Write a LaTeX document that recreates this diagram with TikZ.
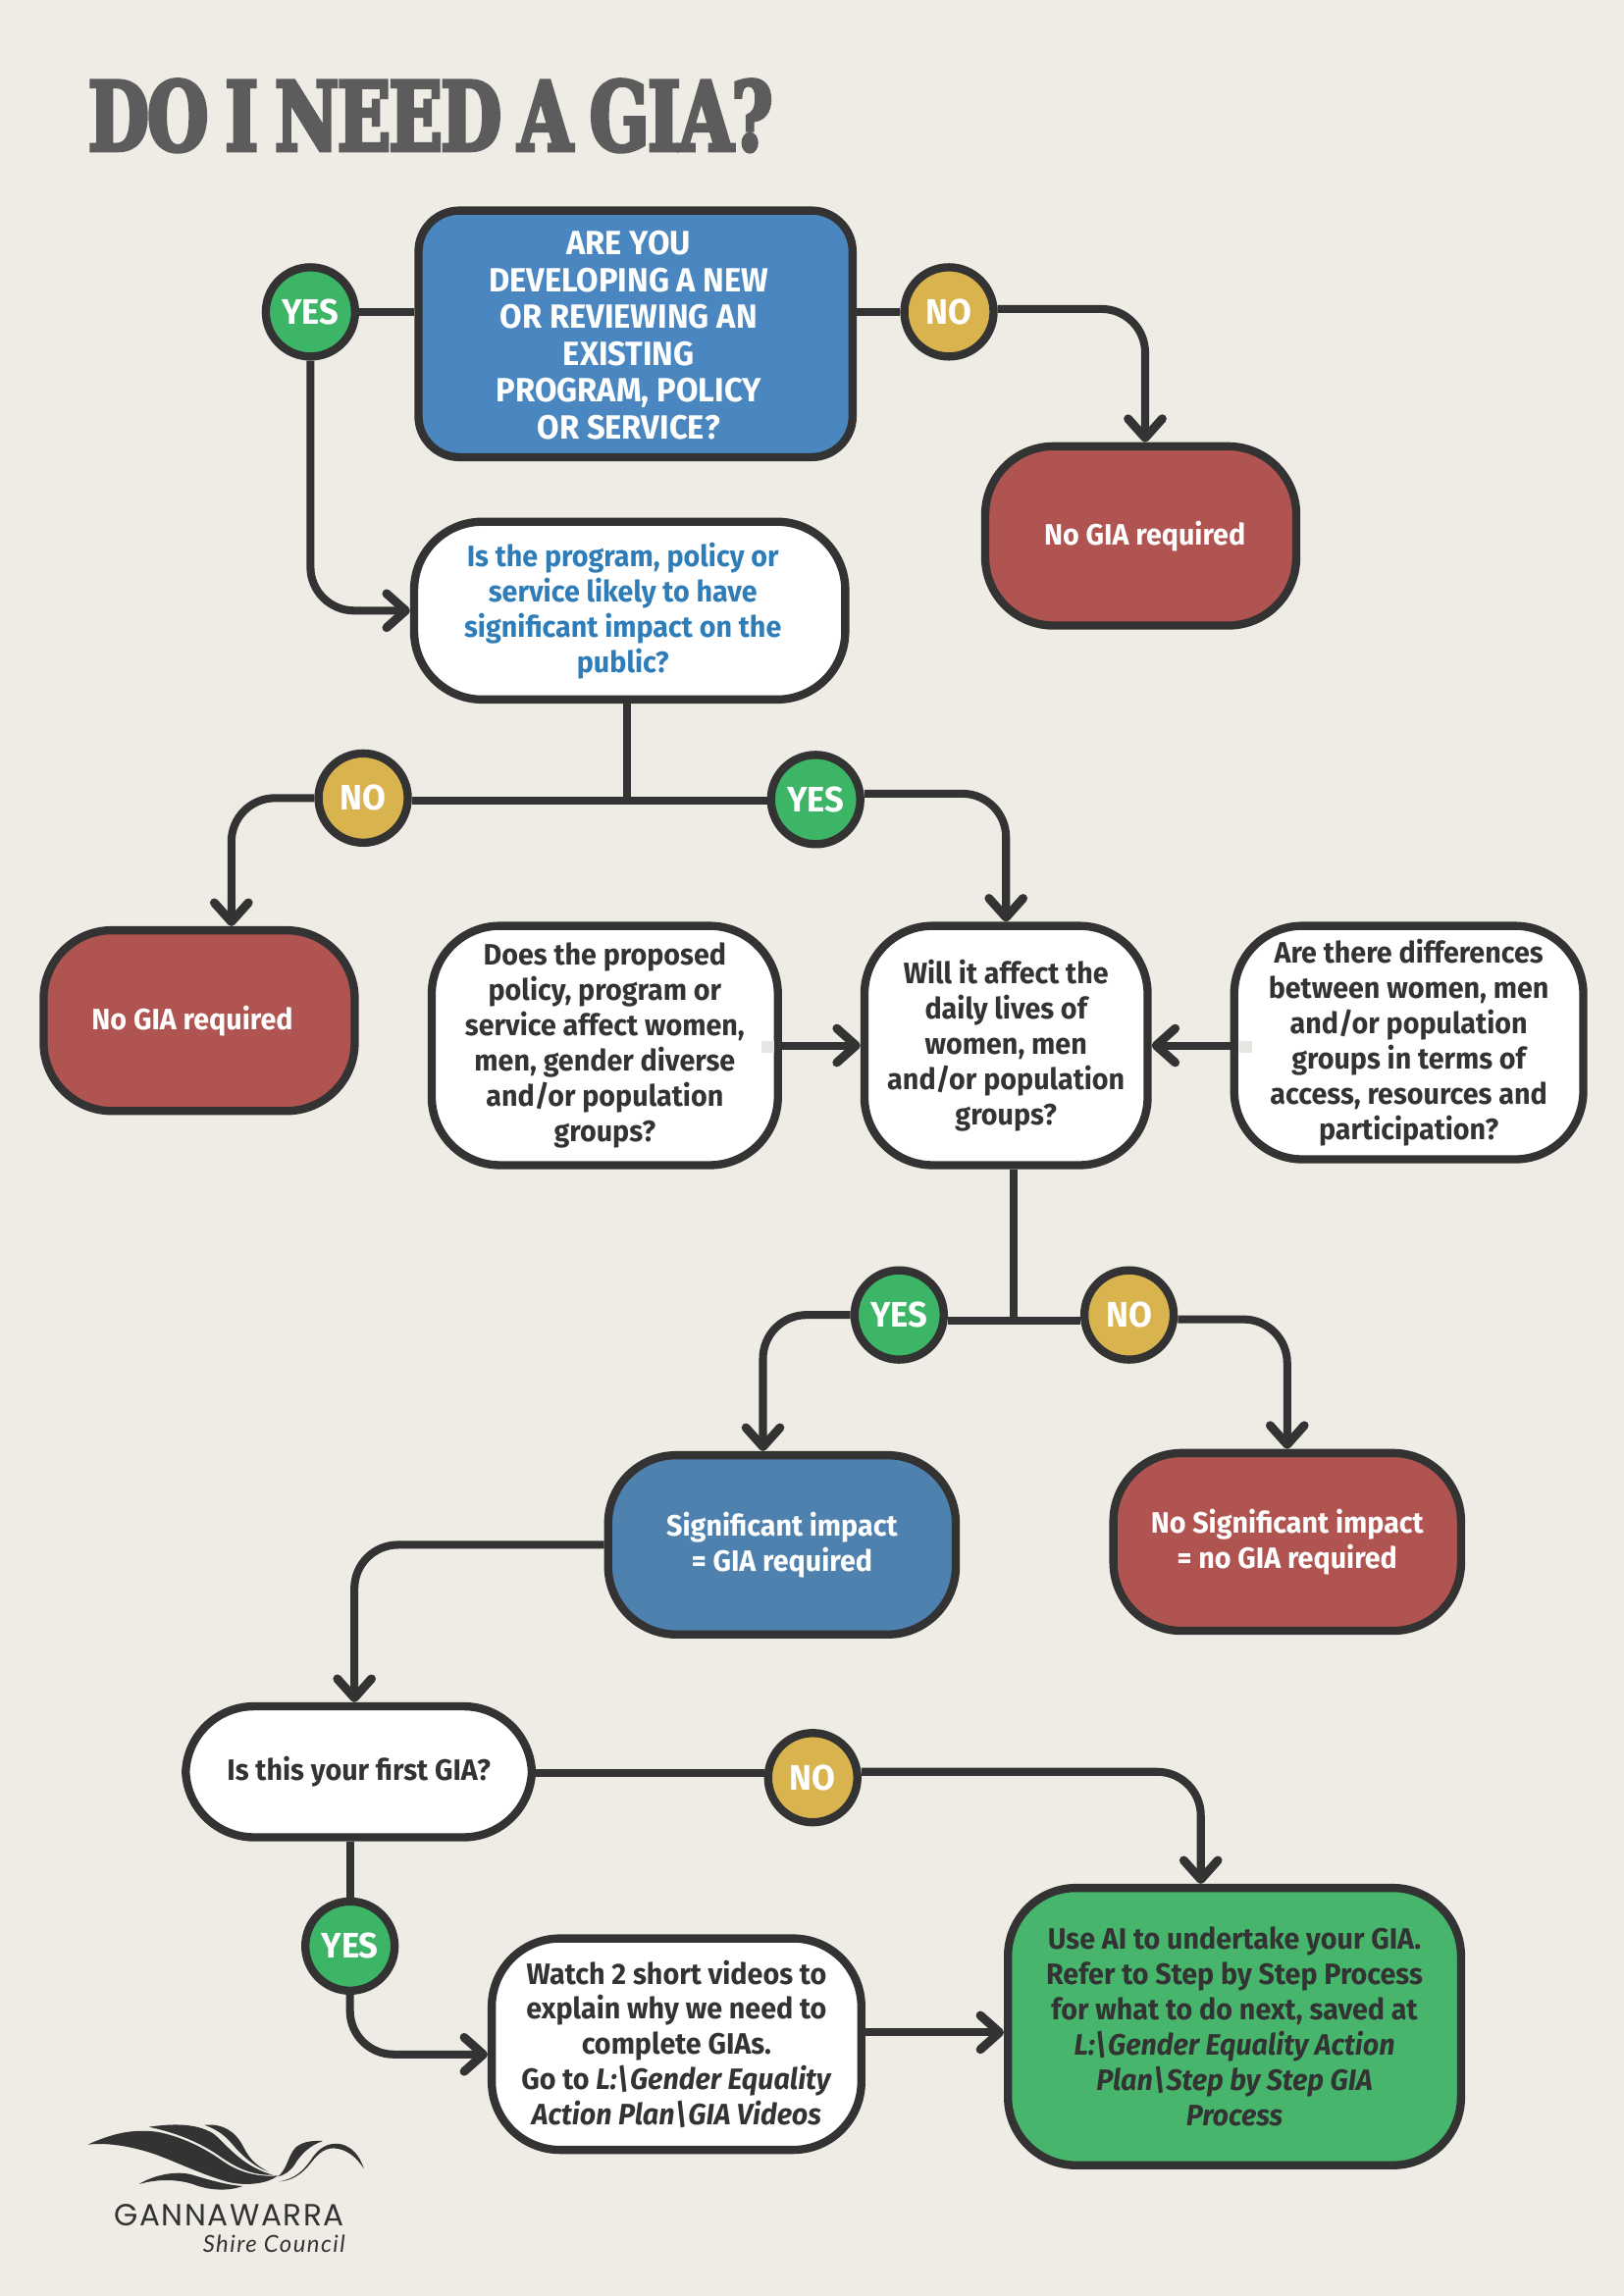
\documentclass[tikz,border=0pt]{standalone}
\usepackage{fontspec}
\setmainfont{Fira Sans}[FakeStretch=0.955]
\newfontfamily\titlefont{DejaVu Serif}[FakeStretch=0.73,FakeBold=4,WordSpace=0.75,LetterSpace=-1.5]
\newfontfamily\logofont{Poppins}[LetterSpace=5]
\newfontfamily\shirefont{Lato}[LetterSpace=6]
\usepackage{tikz}
\usetikzlibrary{positioning,arrows.meta,calc}
\usepackage{xcolor}
\definecolor{paper}{HTML}{EEECE4}
\definecolor{ink}{HTML}{333333}
\definecolor{titlegrey}{HTML}{5C5C5C}
\definecolor{askblue}{HTML}{4A86BF}
\definecolor{textblue}{HTML}{2E7DB8}
\definecolor{sigblue}{HTML}{4E81AD}
\definecolor{stopred}{HTML}{B05451}
\definecolor{yesgreen}{HTML}{3DB567}
\definecolor{nogold}{HTML}{D9B44E}
\definecolor{aigreen}{HTML}{47B56C}
\definecolor{ghost}{HTML}{E6E5E2}

\begin{document}
\begin{tikzpicture}[x=0.5365pt,y=-0.5365pt,>={Straight Barb[length=7pt,width=12.5pt,round,line width=3.2pt]},
  boxsize/.style 2 args={minimum width=#1*0.5365pt-3pt,minimum height=#2*0.5365pt-3pt},
  box/.style={draw=ink,line width=3pt,fill=white,rounded corners=25pt,inner sep=0pt,align=center,text=ink,font=\fontsize{10.8}{12.9}\selectfont\bfseries},
  stopbox/.style={box,fill=stopred,text=white},
  yes/.style={circle,draw=ink,line width=3pt,fill=yesgreen,text=white,minimum size=32.7pt,inner sep=0pt,font=\fontsize{13}{13}\selectfont\bfseries},
  no/.style={yes,fill=nogold},
  flow/.style={draw=ink,line width=2.9pt},
  elbow/.style={flow,rounded corners=16pt}]
\fill[paper] (0,0) rectangle (1109,1568);
\useasboundingbox (0,0) rectangle (1109,1568);
\node (title) [anchor=west,text=titlegrey,font=\fontsize{35}{35}\selectfont\titlefont\bfseries,inner sep=0pt] at (60,79) {DO I NEED A GIA?};
\node (ask) [box,boxsize={302}{174},fill=askblue,text=white,rounded corners=15pt,font=\fontsize{12.3}{13.5}\selectfont\bfseries] at (434,228) {\begin{tabular}{@{}c@{\hspace{5pt}}}ARE YOU\\DEVELOPING A NEW\\OR REVIEWING AN\\EXISTING\\PROGRAM, POLICY\\OR SERVICE?\\[-4.2pt]\end{tabular}};
\node (stopa) [stopbox,boxsize={218}{128}] at (779,366) {\hspace*{3pt}No GIA required};
\node (impact) [box,boxsize={300}{127},text=textblue] at (430,417) {\begin{tabular}{@{}c@{\hspace{5pt}}}Is the program, policy or\\service likely to have\\significant impact on the\\public?\\[-1.6pt]\end{tabular}};
\node (stopb) [stopbox,boxsize={218}{129}] at (136,697) {No GIA required\hspace*{5pt}};
\node (propose) [box,boxsize={242}{169}] at (413,714) {Does the proposed\\policy, program or\\service affect women,\\men, gender diverse\\and/or population\\groups?};
\node (daily) [box,boxsize={199}{169}] at (687,714) {Will it affect the\\daily lives of\\women, men\\and/or population\\groups?};
\node (differ) [box,boxsize={244}{165}] at (962,712) {Are there differences\\between women, men\\and/or population\\groups in terms of\\access, resources and\\participation?};
\node (signif) [box,boxsize={243}{128},fill=sigblue,text=white] at (534,1055) {Significant impact\\= GIA required};
\node (nosignif) [stopbox,boxsize={243}{127}] at (879,1053) {No Significant impact\\= no GIA required};
\node (first) [box,boxsize={242}{95}] at (245,1210) {Is this your first GIA?};
\node (videos) [box,boxsize={258}{150}] at (462,1396) {Watch 2 short videos to\\explain why we need to\\complete GIAs.\\Go to \textit{L:\textbackslash Gender Equality}\\\textit{Action Plan\textbackslash GIA Videos}};
\node (useai) [box,boxsize={315}{195},fill=aigreen] at (843,1384) {Use AI to undertake your GIA.\\Refer to Step by Step Process\\for what to do next, saved at\\\textit{L:\textbackslash Gender Equality Action}\\\textit{Plan\textbackslash Step by Step GIA}\\\textit{Process}};
\node (yesa) [yes] at (212,213) {YES};
\node (noa) [no] at (648,213) {NO};
\node (nob) [no] at (248,545) {NO};
\node (yesb) [yes] at (557,546) {YES};
\node (yesc) [yes] at (614,898) {YES};
\node (noc) [no] at (771,898) {NO};
\node (nod) [no] at (555,1214) {NO};
\node (yesd) [yes] at (239,1329) {YES};
\fill[ghost] (520,711) rectangle (529,719);
\fill[ghost] (846,711) rectangle (855,719);
\draw[flow] (yesa) -- (yesa -| ask.west);
\draw[flow] (noa) -- (noa -| ask.east);
\draw[elbow,->] (yesa) |- (impact.west);
\draw[elbow,->] ($(noa.east)+(0,-2)$) -| ($(stopa.north)+(3,0)$);
\draw[flow] ($(impact.south)+(-2,0)$) -- ($(impact.south)+(-2,67)$);
\draw[flow] ($(nob.east)+(0,2)$) -- ($(yesb.west)+(0,1)$);
\draw[elbow,->] (nob) -| ($(stopb.north)+(22,0)$);
\draw[elbow,->] ($(yesb.east)+(0,-4)$) -| (daily.north);
\draw[flow,->] (propose) -- (daily);
\draw[flow,->] (differ.west |- daily) -- (daily.east);
\draw[flow] ($(daily.south)+(5,0)$) -- ($(daily.south)+(5,105)$);
\draw[flow] ($(yesc.east)+(0,4)$) -- ($(noc.west)+(0,4)$);
\draw[elbow,->] (yesc) -| ($(signif.north)+(-13,0)$);
\draw[elbow,->] ($(noc.east)+(0,3)$) -| (nosignif.north);
\draw[elbow,->] (signif.west) -| ($(first.north)+(-3,0)$);
\draw[flow] ($(first.east)+(0,1)$) -- ($(nod.west)+(0,-3)$);
\draw[elbow,->] ($(nod.east)+(0,-4)$) -| ($(useai.north)+(-23,0)$);
\draw[flow] (first.south -| yesd) -- (yesd);
\draw[elbow,->] (yesd) |- ($(videos.west)+(0,7)$);
\draw[flow,->] ($(videos.east)+(0,-8)$) -- ($(useai.west)+(0,4)$);
\begin{scope}[shift={(0,1407.2)},x=0.1198pt,y=-0.1198pt,fill=ink]
\fill (268,257) .. controls (340,225) and (400,208) .. (480,218) .. controls (555,232) and (625,268) .. (675,303) .. controls (715,332) and (770,358) .. (850,352) .. controls (820,375) and (760,385) .. (700,372) .. controls (620,350) and (540,310) .. (470,285) .. controls (400,262) and (330,250) .. (268,257) -- cycle;
\fill (455,203) .. controls (530,192) and (600,192) .. (650,222) .. controls (690,250) and (730,320) .. (835,350) .. controls (770,352) and (720,325) .. (680,298) .. controls (630,262) and (560,225) .. (455,203) -- cycle;
\fill (625,197) .. controls (680,192) and (720,215) .. (745,265) .. controls (765,305) and (790,325) .. (822,340) .. controls (775,325) and (735,285) .. (710,255) .. controls (685,225) and (660,210) .. (625,197) -- cycle;
\fill (425,378) .. controls (470,350) and (540,335) .. (590,350) .. controls (640,365) and (690,380) .. (742,384) .. controls (700,400) and (640,398) .. (590,378) .. controls (540,362) and (480,362) .. (425,378) -- cycle;
\fill (850,355) .. controls (880,330) and (880,290) .. (905,265) .. controls (930,245) and (960,245) .. (988,246) .. controls (950,258) and (920,285) .. (900,320) .. controls (885,340) and (870,350) .. (850,355) -- cycle;
\fill (853,370) .. controls (900,362) and (925,340) .. (950,305) .. controls (975,265) and (1005,250) .. (1040,255) .. controls (1075,262) and (1100,290) .. (1113,331) .. controls (1090,295) and (1060,270) .. (1020,268) .. controls (985,268) and (965,295) .. (945,320) .. controls (920,350) and (890,368) .. (853,370) -- cycle;
\end{scope}
\node (gannawarra) [anchor=center,text=ink,inner sep=0pt,font=\fontsize{11.2}{11}\selectfont\logofont] at (156.5,1513) {GANNAWARRA};
\node (shire) [anchor=east,text=ink,inner sep=0pt,font=\fontsize{8.6}{9}\selectfont\shirefont\itshape] at (236,1532) {Shire Council};
\end{tikzpicture}
\end{document}
